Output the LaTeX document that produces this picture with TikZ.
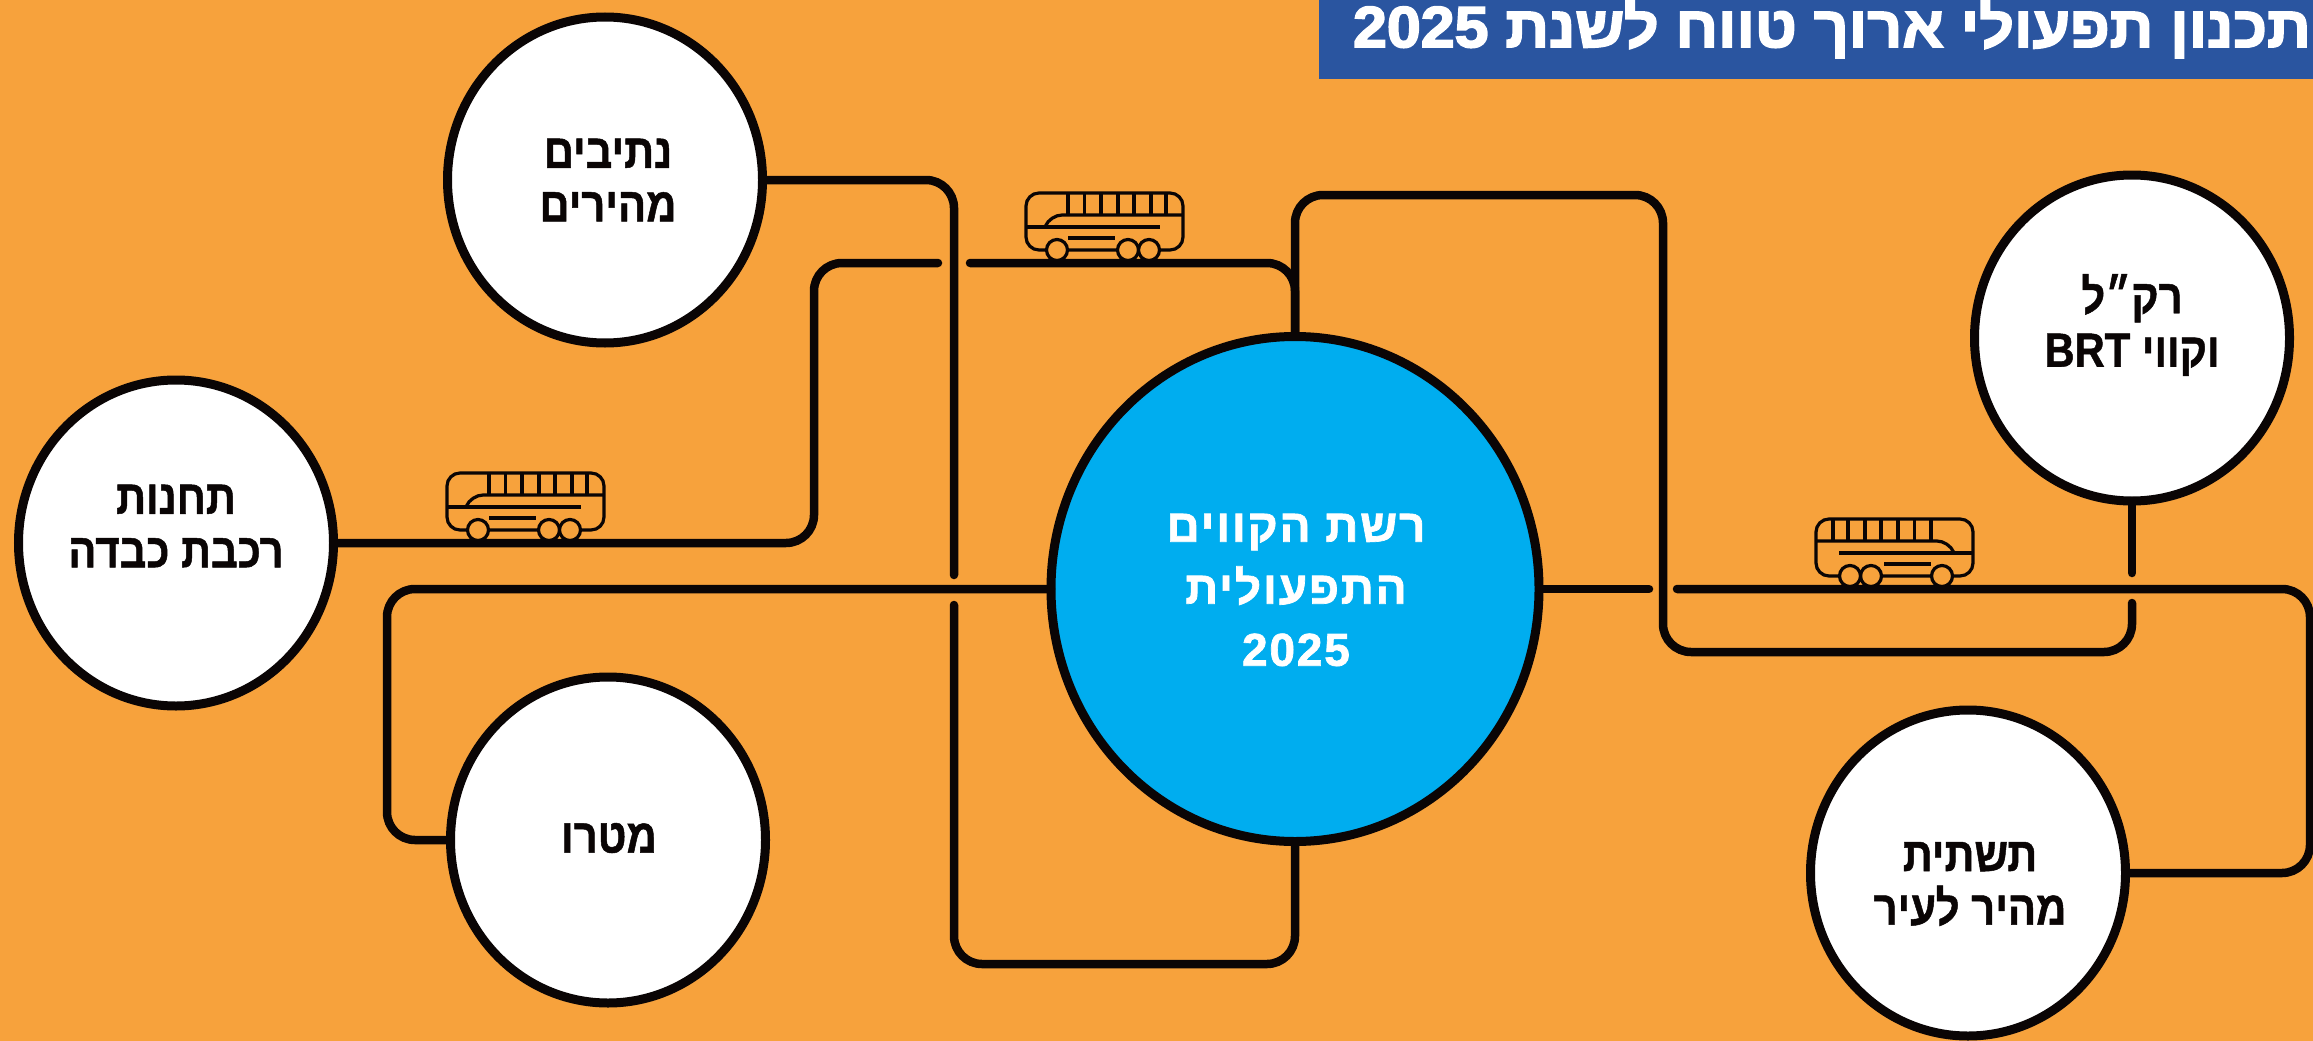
\documentclass[tikz,border=0pt]{standalone}
\usepackage{fontspec}
\usetikzlibrary{shapes.geometric}
\TeXXeTstate=1
\setmainfont{Liberation Sans}
\newfontfamily\hebstop[Script=Hebrew,FakeBold=1,FakeStretch=0.87]{Liberation Sans Bold}
\newfontfamily\hebhub[Script=Hebrew,FakeBold=1.5,LetterSpace=4]{Liberation Sans Bold}
\newfontfamily\hebtitle[Script=Hebrew,FakeBold=3,FakeStretch=1.05]{Liberation Sans Bold}
\definecolor{bgorange}{HTML}{F7A23C}
\definecolor{hubblue}{HTML}{00ADEF}
\definecolor{bannerblue}{HTML}{2A55A0}
\definecolor{ink}{HTML}{0A0505}
\tikzset{
  x=1pt,y=-1pt,
  stopcircle/.style={ellipse,draw=ink,line width=9pt,fill=white,minimum width=315pt,minimum height=326pt,inner sep=0pt,outer sep=0pt},
  hubcircle/.style={ellipse,draw=ink,line width=9pt,fill=hubblue,minimum width=488pt,minimum height=505pt,inner sep=0pt,outer sep=0pt},
  stoplabel/.style={align=center,text=ink,inner sep=0pt,font=\hebstop\fontsize{48}{53.5}\selectfont},
  hublabel/.style={align=center,text=white,inner sep=0pt,font=\hebhub\fontsize{46}{62}\selectfont},
  routeline/.style={draw=ink,line width=8.5pt,rounded corners=28pt,line cap=round},
  buspart/.style={draw=ink,line width=3.2pt},
  pics/coach/.style={code={
    \draw[buspart,rounded corners=13pt] (0,-13) rectangle (157,-70);
    \draw[buspart] (42,-70)--(42,-48) (58.5,-70)--(58.5,-48) (75,-70)--(75,-48) (92,-70)--(92,-48) (108,-70)--(108,-48) (125,-70)--(125,-48) (140,-70)--(140,-48);
    \draw[buspart,rounded corners=12pt] (19,-36)--(24,-48)--(157,-48);
    \draw[buspart] (0,-36)--(134,-36);
    \draw[buspart] (42,-25)--(89,-25);
    \draw[buspart,fill=bgorange] (31,-13) circle (10.5);
    \draw[buspart,fill=bgorange] (102,-13) circle (10.5);
    \draw[buspart,fill=bgorange] (123,-13) circle (10.5);
  }}
}
\begin{document}
\begin{tikzpicture}
\useasboundingbox (0,0) rectangle (2313,1041);
\clip (0,0) rectangle (2313,1041);
\fill[bgorange] (0,0) rectangle (2313,1041);
\fill[bannerblue] (1319,0) rectangle (2313,79);
\node[anchor=east,text=white,font=\hebtitle\fontsize{58}{64}\selectfont,inner sep=0pt] (title) at (2311,29) {\beginR תכנון תפעולי ארוך טווח לשנת \beginL 2025\endL\endR};

\node[hubcircle] (hub) at (1295,589) {};
\node[stopcircle] (netiv) at (605,180) {};
\node[stopcircle] (tachanot) at (176,543) {};
\node[stopcircle] (metro) at (608,840) {};
\node[stopcircle] (rakal) at (2132,338) {};
\node[stopcircle] (tashtit) at (1968,873) {};

\node[hublabel] (hubtext) at (1296,590) {\beginR רשת הקווים\endR\\\beginR התפעולית\endR\\2025};
\node[stoplabel] (netivtext) at (608,180) {\beginR נתיבים\endR\\\beginR מהירים\endR};
\node[stoplabel] (tachanottext) at (176,526) {\beginR תחנות\endR\\\beginR רכבת כבדה\endR};
\node[stoplabel] (metrotext) at (609,838) {\beginR מטרו\endR};
\node[stoplabel] (rakaltext) at (2132,325) {\beginR רק״ל\endR\\\beginR וקווי \beginL BRT\endL\endR};
\node[stoplabel] (tashtittext) at (1970,884) {\beginR תשתית\endR\\\beginR מהיר לעיר\endR};

\coordinate (gapAtop) at (954,575);
\coordinate (gapAbot) at (954,605);
\coordinate (gapBleft) at (938,263);
\coordinate (gapBright) at (970,263);
\coordinate (gapFleft) at (1649,589);
\coordinate (gapFright) at (1677,589);
\coordinate (gapCtop) at (2132,573);
\coordinate (gapCbot) at (2132,603);

\path[routeline] (netiv.east) -- (954,180) -- (gapAtop);
\path[routeline] (gapAbot) -- (954,964) -- (1295,964) -- (hub.south);
\path[routeline] (tachanot.east) -- (814,543) -- (814,263) -- (gapBleft);
\path[routeline] (gapBright) -- (1295,263) -- (hub.north);
\path[routeline] (hub.north) -- (1295,195) -- (1663,195) -- (1663,652) -- (2132,652) -- (gapCbot);
\path[routeline] (gapCtop) -- (rakal.south);
\path[routeline] (hub.west) -- (387,589) -- (387,840) -- (metro.west);
\path[routeline] (hub.east) -- (gapFleft);
\path[routeline] (gapFright) -- (2310,589) -- (2310,873) -- (tashtit.east);

\pic at (1026,263) {coach};
\pic at (447,543) {coach};
\pic[xscale=-1] at (1973,589) {coach};
\end{tikzpicture}
\end{document}
